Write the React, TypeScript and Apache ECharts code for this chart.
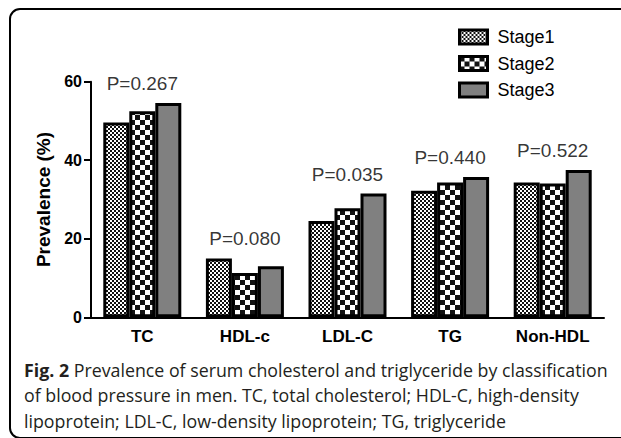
import React, { useEffect, useRef } from "react";
import * as echarts from "echarts";

const categories = ["TC", "HDL-c", "LDL-C", "TG", "Non-HDL"];
const stageNames = ["Stage1", "Stage2", "Stage3"];
const stage1 = [49.6, 15.0, 24.5, 32.2, 34.3];
const stage2 = [52.5, 11.3, 27.8, 34.3, 34.1];
const stage3 = [54.6, 13.0, 31.5, 35.7, 37.5];
const pValues = ["P=0.267", "P=0.080", "P=0.035", "P=0.440", "P=0.522"];
const yTicks = [0, 20, 40, 60];
const captionBold = "Fig. 2";
const captionLines = [
  " Prevalence of serum cholesterol and triglyceride by classification",
  "of blood pressure in men. TC, total cholesterol; HDL-C, high-density",
  "lipoprotein; LDL-C, low-density lipoprotein; TG, triglyceride",
];

function checker(cell: number, c1: string, c2: string) {
  const c = document.createElement("canvas");
  c.width = cell * 2;
  c.height = cell * 2;
  const ctx = c.getContext("2d")!;
  ctx.fillStyle = c1;
  ctx.fillRect(0, 0, cell * 2, cell * 2);
  ctx.fillStyle = c2;
  ctx.fillRect(0, 0, cell, cell);
  ctx.fillRect(cell, cell, cell, cell);
  return {
    image: c.toDataURL(),
    repeat: "repeat",
    imageWidth: cell * 2,
    imageHeight: cell * 2,
  } as any;
}

export default function App() {
  const ref = useRef<HTMLDivElement>(null);
  useEffect(() => {
    document.body.style.margin = "0";
    const chart = echarts.init(ref.current!, null, { renderer: "svg" });
    const fills = [checker(2, "#ffffff", "#111111"), checker(5, "#ffffff", "#111111"), "#808080"];
    const values = [stage1, stage2, stage3];
    const maxes = categories.map((_, i) => Math.max(stage1[i], stage2[i], stage3[i]));
    const font = "Liberation Sans";
    const option: any = {
      animation: false,
      backgroundColor: "#ffffff",
      graphic: [
        {
          type: "rect",
          shape: { x: 10, y: 9, width: 700, height: 429, r: 10 },
          style: { fill: "none", stroke: "#000", lineWidth: 2 },
          silent: true,
        },
      ],
      title: {
        text: "{b|" + captionBold + "}" + captionLines.join("\n"),
        left: 24,
        top: 357,
        padding: 0,
        textStyle: {
          fontFamily: "Open Sans",
          fontSize: 17.8,
          fontWeight: "normal",
          color: "#231f20",
          lineHeight: 25.5,
          rich: {
            b: { fontFamily: "Open Sans", fontSize: 17.8, fontWeight: "bold", color: "#231f20", lineHeight: 25.5 },
          },
        },
      },
      legend: {
        orient: "vertical",
        left: 453,
        top: 23,
        itemWidth: 28,
        itemHeight: 14,
        itemGap: 8.5,
        icon: "rect",
        data: stageNames,
        itemStyle: { borderColor: "#000", borderWidth: 3 },
        textStyle: { fontFamily: font, fontSize: 18, color: "#000", padding: [0, 0, 0, 5] },
      },
      grid: { left: 91, right: 17, top: 81.7, bottom: 120.7 },
      xAxis: {
        type: "category",
        data: categories,
        axisLine: { lineStyle: { color: "#000", width: 2 } },
        axisTick: { alignWithLabel: true, length: 7, lineStyle: { color: "#000", width: 2 } },
        axisLabel: { fontFamily: font, fontWeight: "bold", fontSize: 17, color: "#000", margin: 11 },
      },
      yAxis: {
        type: "value",
        min: yTicks[0],
        max: yTicks[yTicks.length - 1],
        interval: yTicks[1] - yTicks[0],
        name: "Prevalence (%)",
        nameLocation: "middle",
        nameGap: 36,
        nameTextStyle: { fontFamily: font, fontWeight: "bold", fontSize: 19, color: "#000" },
        axisLine: { show: true, lineStyle: { color: "#000", width: 2 } },
        axisTick: { show: true, length: 7, lineStyle: { color: "#000", width: 2 } },
        splitLine: { show: false },
        axisLabel: { fontFamily: font, fontWeight: "bold", fontSize: 16, color: "#000", margin: 9 },
      },
      series: [
        ...stageNames.map((name, k) => ({
          name,
          type: "bar",
          data: values[k],
          barWidth: 26,
          barGap: "0%",
          itemStyle: { color: fills[k], borderColor: "#000", borderWidth: 3 },
        })),
        {
          name: "P",
          type: "scatter",
          data: maxes.map((m, i) => [categories[i], m]),
          symbolSize: 0,
          label: {
            show: true,
            position: "top",
            distance: 10,
            formatter: (p: any) => pValues[p.dataIndex],
            fontFamily: font,
            fontSize: 19,
            color: "#000",
          },
          z: 10,
        },
      ],
    };
    chart.setOption(option);
    return () => chart.dispose();
  }, []);
  return <div ref={ref} style={{ position: "fixed", left: 0, top: 0, width: 621, height: 438 }} />;
}
